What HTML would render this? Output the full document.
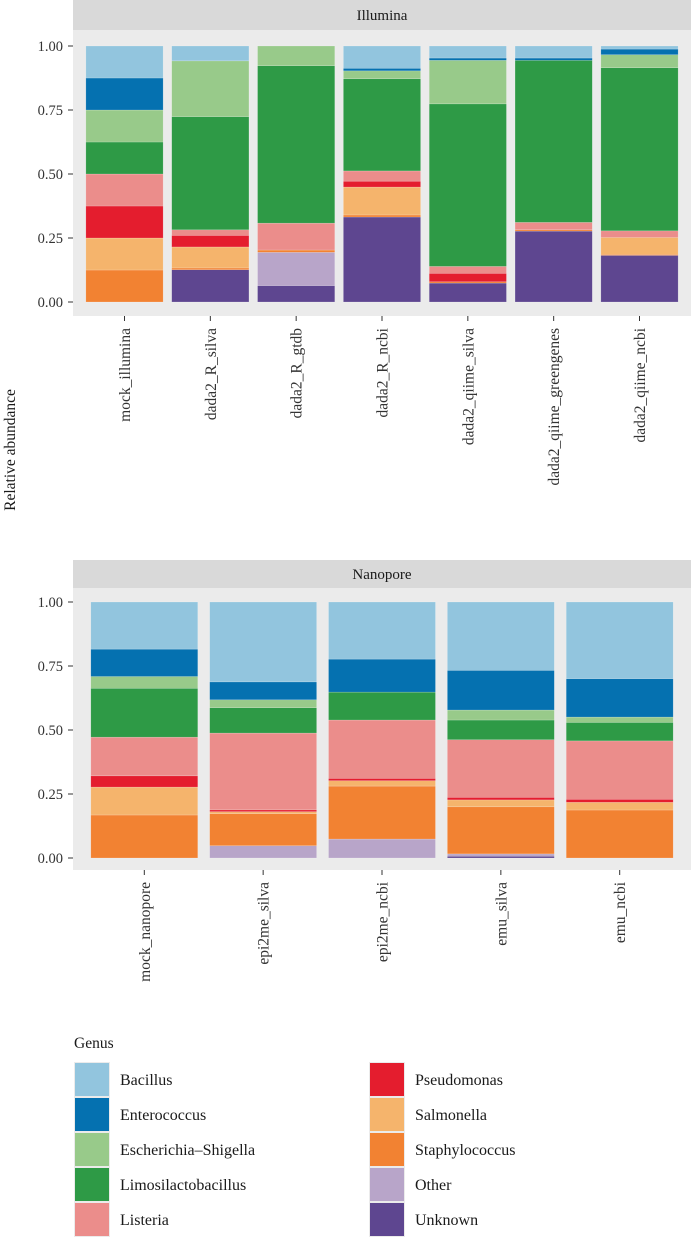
<!DOCTYPE html>
<html><head><meta charset="utf-8"><style>
body{margin:0;background:#fff;}
svg text{font-family:"Liberation Serif",serif;}
</style></head><body>
<svg id="chart" width="691" height="1238" viewBox="0 0 691 1238" xmlns="http://www.w3.org/2000/svg"></svg>
<script>
const genera = ["Bacillus","Enterococcus","Escherichia–Shigella","Limosilactobacillus","Listeria","Pseudomonas","Salmonella","Staphylococcus","Other","Unknown"];
const colors = ["#92c5de","#0571b0","#98ca8a","#2e9a46","#eb8d8b","#e41d2e","#f5b46c","#f28232","#b8a5c9","#5e4690"];
const yTicks = [0,0.25,0.5,0.75,1];
const yTickLabels = ["0.00","0.25","0.50","0.75","1.00"];
// values listed bottom-up: Unknown, Other, Staph, Salm, Pseudo, Listeria, Limo, Esch, Entero, Bacillus
const illuminaSamples = ["mock_illumina","dada2_R_silva","dada2_R_gtdb","dada2_R_ncbi","dada2_qiime_silva","dada2_qiime_greengenes","dada2_qiime_ncbi"];
const illuminaValues = [
 [0,0,0.125,0.125,0.125,0.125,0.125,0.125,0.125,0.125],
 [0.126,0,0.007,0.082,0.045,0.022,0.442,0.218,0,0.058],
 [0.064,0.13,0.009,0,0,0.105,0.615,0.077,0,0],
 [0.332,0,0.008,0.109,0.023,0.04,0.36,0.031,0.01,0.087],
 [0.074,0,0.005,0,0.033,0.027,0.635,0.17,0.009,0.047],
 [0.277,0,0.005,0,0,0.029,0.633,0,0.009,0.047],
 [0.182,0,0.004,0.066,0,0.026,0.637,0.051,0.022,0.012]
];
const nanoporeSamples = ["mock_nanopore","epi2me_silva","epi2me_ncbi","emu_silva","emu_ncbi"];
const nanoporeValues = [
 [0,0,0.168,0.109,0.044,0.151,0.191,0.046,0.107,0.184],
 [0,0.048,0.125,0.008,0.007,0.3,0.099,0.031,0.07,0.312],
 [0,0.074,0.207,0.021,0.009,0.228,0.109,0,0.129,0.223],
 [0.007,0.009,0.184,0.027,0.01,0.225,0.077,0.039,0.155,0.267],
 [0,0,0.1875,0.03,0.012,0.228,0.072,0.021,0.15,0.2995]
];
const NS="http://www.w3.org/2000/svg";
const svg=document.getElementById('chart');
function mk(t,a,p){const e=document.createElementNS(NS,t);for(const k in a)e.setAttribute(k,a[k]);(p||svg).appendChild(e);return e;}
function panel(title,samples,values,stripY,plotTop,plotBot,y0,y1,name){
  const X0=73,X1=691;
  const g=mk('g',{});
  
  
  const s=mk('rect',{x:X0,y:stripY,width:X1-X0,height:plotTop-stripY,fill:'#d9d9d9'},g);
  
  
  const st=mk('text',{x:(X0+X1)/2,y:stripY+(plotTop-stripY)/2+5,'text-anchor':'middle','font-size':15,fill:'#1a1a1a'},g);
  st.textContent=title;
  
  
  const bg=mk('rect',{x:X0,y:plotTop,width:X1-X0,height:plotBot-plotTop,fill:'#ebebeb'},g);
  
  
  const ys=v=>y0+(y1-y0)*v;
  const n=samples.length, step=(X1-X0)/(n-1+1.2);
  const xc=i=>X0+step*(0.6+i), bw=step*0.9;
  yTicks.forEach((t,i)=>{
    mk('line',{x1:68,x2:73,y1:ys(t),y2:ys(t),stroke:'#333','stroke-width':1},g);
    const tl=mk('text',{x:63,y:ys(t)+5,'text-anchor':'end','font-size':14.5,fill:'#333'},g);
    tl.textContent=yTickLabels[i];
    
    
  });
  samples.forEach((smp,i)=>{
    let cum=0;
    const vals=values[i];
    for(let k=0;k<vals.length;k++){
      const v=vals[k]; if(v<=0) continue;
      const gi=genera.length-1-k;
      const r=mk('rect',{x:xc(i)-bw/2,y:ys(cum+v),width:bw,height:ys(cum)-ys(cum+v),fill:colors[gi],stroke:'rgba(255,255,255,0.35)','stroke-width':0.5},g);
      
      
      cum+=v;
    }
    mk('line',{x1:xc(i),x2:xc(i),y1:plotBot,y2:plotBot+5,stroke:'#333','stroke-width':1},g);
    const xl=mk('text',{x:0,y:0,'text-anchor':'end','font-size':15.5,fill:'#333',transform:`translate(${xc(i)+5.5},${plotBot+12}) rotate(-90)`},g);
    xl.textContent=smp;
    
    
  });
}
panel('Illumina',illuminaSamples,illuminaValues,0,30,316,302,46,'illumina');
panel('Nanopore',nanoporeSamples,nanoporeValues,560,588,870,858,602,'nanopore');
const yl=mk('text',{x:0,y:0,'text-anchor':'middle','font-size':15.5,fill:'#1a1a1a',transform:'translate(15,450) rotate(-90)'});
yl.textContent='Relative abundance';


const lt=mk('text',{x:74,y:1048,'font-size':15.5,fill:'#1a1a1a'});
lt.textContent='Genus';


genera.forEach((gn,i)=>{
  const col=Math.floor(i/5), row=i%5;
  const kx=col?369:74, ky=1062+row*35;
  const lg=mk('g',{});
  
  
  mk('rect',{x:kx,y:ky,width:36,height:35,fill:'#ebebeb'},lg);
  mk('rect',{x:kx+1,y:ky+1,width:34,height:33,fill:colors[i]},lg);
  const t=mk('text',{x:kx+46,y:ky+23,'font-size':16,fill:'#1a1a1a'},lg);
  t.textContent=gn;
});
</script>
</body></html>
